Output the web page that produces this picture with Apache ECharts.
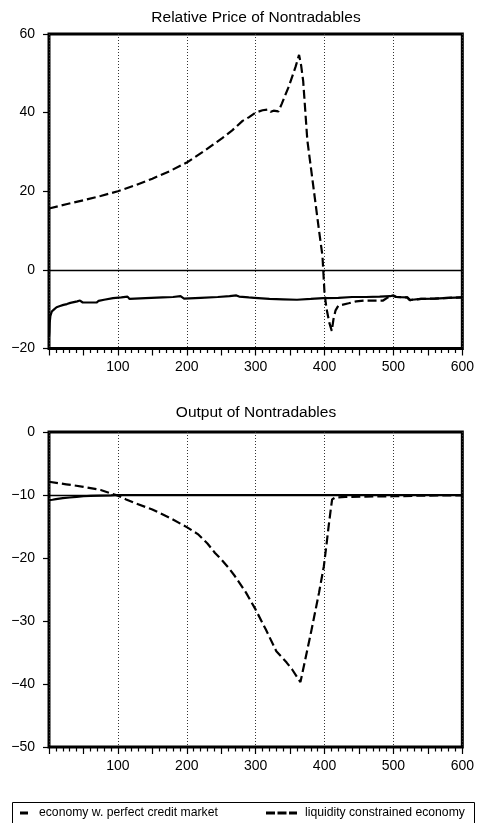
<!DOCTYPE html>
<html>
<head>
<meta charset="utf-8">
<script src="https://cdn.jsdelivr.net/npm/echarts@6/dist/echarts.min.js"></script>
<style>
html,body{margin:0;padding:0;background:#fff;}
#chart{width:477px;height:823px;}
</style>
</head>
<body>
<div id="chart"></div>
<script>
// ---- Data ----
const seriesNames = ['economy w. perfect credit market', 'liquidity constrained economy'];
const titles = ['Relative Price of Nontradables', 'Output of Nontradables'];
const xTickLabels = [100, 200, 300, 400, 500, 600];
const priceTicks = [-20, 0, 20, 40, 60];
const outputTicks = [-50, -40, -30, -20, -10, 0];

// Relative price, perfect credit market (solid)
const pricePerfectX = [0, 0.5, 1, 2, 4, 7, 11, 16, 21, 26, 31, 36, 41, 45, 47, 49, 55, 62, 69, 72, 74, 80, 93, 105, 114, 117, 140, 165, 180, 191, 193, 196, 220, 245, 262, 272, 276, 290, 298, 300, 320, 340, 360, 380, 398, 420, 440, 460, 480, 495, 500, 504, 520, 524, 527, 540, 560, 580, 600];
const pricePerfectY = [-17, -15.9, -13.5, -11.7, -10.6, -10.1, -9.5, -9.2, -8.9, -8.7, -8.4, -8.2, -8.0, -7.8, -7.7, -8.3, -8.3, -8.3, -8.3, -7.9, -7.7, -7.6, -7.2, -7.0, -6.8, -7.4, -7.2, -7.0, -6.9, -6.7, -6.5, -7.3, -7.1, -6.9, -6.7, -6.5, -6.8, -7.0, -7.1, -7.6, -7.4, -7.5, -7.6, -7.4, -7.2, -7.1, -6.9, -6.9, -6.8, -6.7, -6.5, -6.9, -7.0, -7.7, -7.6, -7.4, -7.3, -7.1, -7.0];

// Relative price, liquidity constrained economy (dashed)
const priceConstrX = [0, 25, 50, 75, 100, 125, 150, 175, 200, 225, 252, 266, 281, 290, 300, 310, 318, 322, 326, 333, 338, 348, 358, 363, 366, 369, 371, 375, 385, 392, 397, 400, 403, 407, 410.5, 413, 416, 420, 435, 446, 458, 485, 492, 500, 504, 520, 524, 527, 540, 560, 580, 600];
const priceConstrY = [15.6, 16.7, 17.7, 18.8, 20.0, 21.5, 23.2, 25.1, 27.3, 30.2, 33.6, 35.5, 37.9, 38.8, 40.0, 40.6, 40.8, 40.2, 40.5, 40.3, 42.3, 46.6, 51.7, 54.7, 52, 48, 43, 33, 19.5, 10, 3.5, -6, -10, -13.5, -15.5, -12.5, -10.3, -9.1, -8.5, -8.0, -7.8, -7.8, -7.0, -6.6, -6.9, -7.0, -7.7, -7.6, -7.4, -7.3, -7.1, -7.0];

// Output, perfect credit market (solid)
const outputPerfectX = [0, 5, 10, 20, 30, 40, 50, 60, 75, 90, 100, 150, 200, 300, 400, 500, 600];
const outputPerfectY = [-10.8, -10.75, -10.65, -10.5, -10.4, -10.3, -10.2, -10.15, -10.1, -10.05, -10, -10, -10, -10, -10, -10, -10];

// Output, liquidity constrained economy (dashed)
const outputConstrX = [0, 25, 50, 75, 100, 112, 125, 150, 175, 200, 216, 230, 241, 250, 261, 270, 286, 300, 315, 330, 345, 353, 365, 373, 380, 385, 392, 399, 403, 406, 409, 411, 415.5, 430, 460, 500, 540, 600];
const outputConstrY = [-7.9, -8.3, -8.7, -9.2, -10.1, -10.7, -11.3, -12.3, -13.6, -15.1, -16.2, -17.7, -19.2, -20.2, -21.6, -22.9, -25.5, -28.2, -31.4, -34.8, -36.6, -37.7, -39.7, -35.6, -32.0, -29.3, -25.5, -21.3, -17.7, -14.9, -12.3, -10.7, -10.4, -10.3, -10.25, -10.2, -10.1, -10.05];

const refLines = [0, -10];

// ---- Build chart ----
const zip = (xs, ys) => xs.map((x, i) => [x, ys[i]]);
const FONT = "'Liberation Sans', Arial, Helvetica, sans-serif";
const minus = v => (v < 0 ? '\u2212' + Math.abs(v) : String(v));

const grids = [
  { left: 49, width: 415, top: 34, height: 314.5 },
  { left: 49, width: 415, top: 432, height: 315 }
];

function tickXAxis(gi) {
  return {
    type: 'value', gridIndex: gi, min: 0, max: 600, interval: 50, position: 'bottom',
    axisLine: { show: false, onZero: false },
    axisTick: { show: true, inside: false, length: 7, lineStyle: { color: '#000', width: 1.2 } },
    minorTick: { show: true, splitNumber: 5, length: 4.5, lineStyle: { color: '#000', width: 1.2 } },
    axisLabel: {
      margin: 12, color: '#000', fontSize: 14, fontFamily: FONT,
      formatter: v => (xTickLabels.indexOf(v) >= 0 ? String(v) : '')
    },
    splitLine: { show: false }
  };
}
function gridXAxis(gi) {
  return {
    type: 'value', gridIndex: gi, min: 0, max: 600, interval: 100, position: 'bottom',
    axisLine: { show: false, onZero: false }, axisTick: { show: false }, axisLabel: { show: false },
    splitLine: { show: true, lineStyle: { color: '#333', width: 1, type: [1, 2] } }
  };
}
function yAxis(gi, ticks) {
  return {
    type: 'value', gridIndex: gi, min: ticks[0], max: ticks[ticks.length - 1],
    interval: ticks[1] - ticks[0], position: 'left',
    axisLine: { show: false, onZero: false },
    axisTick: { show: true, inside: false, length: 6, lineStyle: { color: '#000', width: 1.2 } },
    axisLabel: { margin: 14, color: '#000', fontSize: 14, fontFamily: FONT, formatter: minus },
    splitLine: { show: false }
  };
}

const solidStyle = { color: '#000', width: 2.2, type: 'solid' };
const dashStyle = { color: '#000', width: 2.2, type: [9, 4] };

function lineSeries(name, xi, yi, data, style, refLine) {
  const s = {
    name, type: 'line', xAxisIndex: xi, yAxisIndex: yi, data,
    symbol: 'none', showSymbol: false, smooth: false, animation: false,
    lineStyle: style, itemStyle: { color: '#000' }, z: 5
  };
  if (refLine !== undefined) {
    s.markLine = {
      silent: true, symbol: ['none', 'none'], animation: false,
      label: { show: false },
      lineStyle: { color: '#000', width: 1.3, type: 'solid' },
      data: [{ yAxis: refLine }]
    };
  }
  return s;
}

const legendText = { color: '#000', fontSize: 12.2, fontFamily: FONT };

const option = {
  backgroundColor: '#fff',
  animation: false,
  grid: grids.map(g => Object.assign({ show: true, borderColor: '#000', borderWidth: 3, backgroundColor: 'transparent' }, g)),
  xAxis: [tickXAxis(0), gridXAxis(0), tickXAxis(1), gridXAxis(1)],
  yAxis: [yAxis(0, priceTicks), yAxis(1, outputTicks)],
  legend: [
    {
      data: [{ name: seriesNames[0], icon: 'path://M0,0h8v3h-8z' }],
      left: 20, top: 807, padding: 0, itemWidth: 8, itemHeight: 3, itemGap: 0,
      itemStyle: { color: '#000' },
      textStyle: Object.assign({ padding: [0, 0, 0, 6] }, legendText),
      selectedMode: false
    },
    {
      data: [{ name: seriesNames[1], icon: 'path://M0,0h9v3h-9z M11.5,0h9v3h-9z M23,0h8v3h-8z' }],
      left: 266, top: 807, padding: 0, itemWidth: 31, itemHeight: 3, itemGap: 0,
      itemStyle: { color: '#000' },
      textStyle: Object.assign({ padding: [0, 0, 0, 3] }, legendText),
      selectedMode: false
    }
  ],
  graphic: [
    { type: 'text', x: 256, y: 18, style: { text: titles[0], fill: '#000', font: '15.5px ' + FONT, align: 'center', verticalAlign: 'middle' } },
    { type: 'text', x: 256, y: 413, style: { text: titles[1], fill: '#000', font: '15.5px ' + FONT, align: 'center', verticalAlign: 'middle' } },
    { type: 'rect', shape: { x: 12.5, y: 802.5, width: 462, height: 30 }, style: { fill: 'none', stroke: '#000', lineWidth: 1 } }
  ],
  series: [
    lineSeries(seriesNames[0], 0, 0, zip(pricePerfectX, pricePerfectY), solidStyle, refLines[0]),
    lineSeries(seriesNames[1], 0, 0, zip(priceConstrX, priceConstrY), dashStyle),
    lineSeries(seriesNames[0], 2, 1, zip(outputPerfectX, outputPerfectY), solidStyle, refLines[1]),
    lineSeries(seriesNames[1], 2, 1, zip(outputConstrX, outputConstrY), dashStyle)
  ]
};

const chart = echarts.init(document.getElementById('chart'), null, { renderer: 'canvas' });
chart.setOption(option);
</script>
</body>
</html>
